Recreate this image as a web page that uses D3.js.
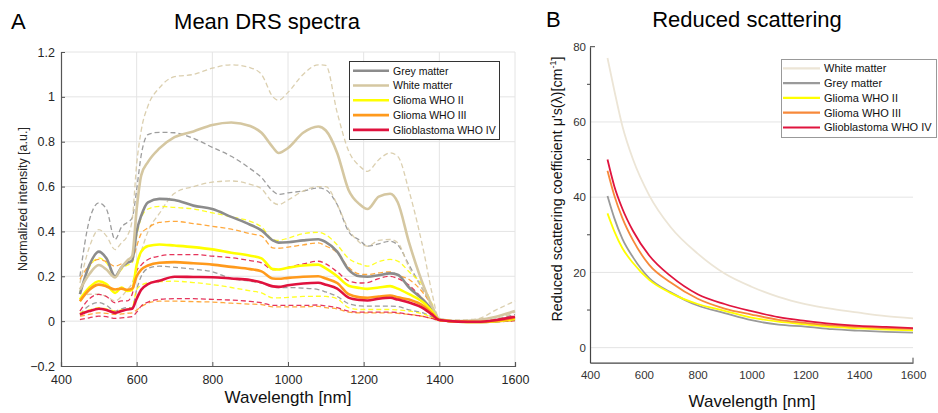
<!DOCTYPE html>
<html><head><meta charset="utf-8">
<script src="https://cdn.jsdelivr.net/npm/d3@7"></script>
<style>
body{margin:0;background:#fff;}
text{font-family:"Liberation Sans",Arial,Helvetica,sans-serif;}
</style></head>
<body><svg id="c" width="938" height="413"></svg>
<script>
// ---------- Panel A data ----------
const wavelengthsA = [450,475,500,520,543,560,575,588,600,612,630,660,700,750,800,850,900,930,960,975,1000,1040,1080,1100,1130,1160,1190,1210,1240,1270,1290,1320,1360,1380,1400,1450,1500,1550,1600];
const greyMean  = [0.12,0.25,0.31,0.28,0.20,0.24,0.26,0.27,0.40,0.47,0.53,0.545,0.54,0.515,0.50,0.465,0.43,0.405,0.36,0.35,0.352,0.36,0.365,0.352,0.31,0.23,0.20,0.198,0.205,0.213,0.207,0.15,0.09,0.05,0.005,-0.002,-0.004,0.0,0.01];
const greyUpper = [0.20,0.45,0.527,0.50,0.364,0.42,0.44,0.46,0.587,0.74,0.832,0.842,0.84,0.815,0.775,0.735,0.68,0.64,0.58,0.565,0.572,0.58,0.594,0.585,0.52,0.40,0.36,0.334,0.345,0.356,0.34,0.25,0.13,0.07,0.01,0.0,-0.002,0.01,0.03];
const greyLower = [0.03,0.07,0.083,0.07,0.045,0.055,0.06,0.06,0.141,0.20,0.235,0.245,0.24,0.232,0.22,0.19,0.178,0.17,0.152,0.15,0.15,0.147,0.141,0.13,0.11,0.078,0.068,0.067,0.067,0.067,0.065,0.05,0.035,0.02,0.004,-0.003,-0.005,-0.002,0.005];
const whiteMean  = [0.14,0.21,0.25,0.23,0.195,0.24,0.27,0.29,0.50,0.65,0.71,0.77,0.82,0.846,0.875,0.886,0.87,0.84,0.775,0.75,0.772,0.84,0.868,0.85,0.75,0.585,0.52,0.50,0.555,0.568,0.53,0.35,0.15,0.07,0.01,0.0,0.005,0.02,0.045];
const whiteUpper = [0.17,0.33,0.408,0.38,0.319,0.35,0.379,0.45,0.70,0.85,0.96,1.04,1.09,1.10,1.128,1.143,1.13,1.10,1.0,0.985,1.02,1.10,1.143,1.14,0.93,0.76,0.69,0.668,0.72,0.75,0.735,0.58,0.30,0.13,0.01,0.005,0.01,0.05,0.09];
const whiteLower = [0.10,0.12,0.12,0.11,0.09,0.11,0.14,0.17,0.24,0.31,0.40,0.48,0.57,0.60,0.62,0.625,0.61,0.59,0.53,0.52,0.54,0.58,0.60,0.60,0.52,0.41,0.35,0.334,0.36,0.364,0.35,0.24,0.13,0.06,0.005,0.0,0.0,0.01,0.04];
const g2Mean  = [0.097,0.15,0.178,0.165,0.126,0.15,0.135,0.14,0.25,0.31,0.335,0.342,0.337,0.33,0.32,0.305,0.292,0.28,0.232,0.23,0.238,0.248,0.252,0.235,0.20,0.158,0.148,0.144,0.15,0.156,0.145,0.12,0.08,0.045,0.005,-0.002,-0.004,0.0,0.01];
const g2Upper = [0.13,0.24,0.282,0.26,0.20,0.23,0.25,0.26,0.379,0.46,0.50,0.512,0.507,0.50,0.483,0.465,0.445,0.42,0.364,0.36,0.37,0.39,0.396,0.385,0.34,0.28,0.255,0.245,0.265,0.275,0.268,0.22,0.15,0.08,0.005,-0.002,-0.004,0.0,0.012];
const g2Lower = [0.037,0.05,0.06,0.055,0.045,0.05,0.055,0.06,0.141,0.16,0.171,0.176,0.178,0.172,0.163,0.15,0.135,0.126,0.104,0.104,0.106,0.11,0.111,0.11,0.10,0.06,0.052,0.052,0.052,0.052,0.05,0.045,0.03,0.018,0.003,-0.003,-0.005,-0.003,0.003];
const g3Mean  = [0.089,0.14,0.163,0.155,0.141,0.145,0.14,0.145,0.20,0.23,0.248,0.26,0.263,0.258,0.252,0.242,0.232,0.222,0.19,0.189,0.193,0.198,0.20,0.19,0.17,0.12,0.106,0.104,0.11,0.114,0.106,0.096,0.065,0.035,0.005,-0.002,-0.004,0.002,0.015];
const g3Upper = [0.186,0.25,0.275,0.265,0.245,0.255,0.26,0.27,0.334,0.39,0.416,0.44,0.445,0.435,0.423,0.41,0.39,0.379,0.327,0.325,0.33,0.34,0.349,0.335,0.305,0.24,0.21,0.208,0.215,0.22,0.205,0.186,0.12,0.07,0.005,-0.002,-0.004,0.0,0.01];
const g3Lower = [0.022,0.03,0.037,0.035,0.03,0.032,0.035,0.037,0.05,0.065,0.08,0.089,0.089,0.087,0.085,0.08,0.076,0.074,0.064,0.064,0.064,0.064,0.066,0.06,0.055,0.04,0.037,0.037,0.037,0.037,0.035,0.03,0.02,0.012,0.003,-0.003,-0.005,-0.003,0.002];
const g4Mean  = [0.03,0.045,0.055,0.05,0.037,0.045,0.052,0.055,0.10,0.14,0.165,0.18,0.198,0.197,0.196,0.19,0.183,0.172,0.155,0.153,0.16,0.168,0.171,0.162,0.145,0.105,0.094,0.092,0.10,0.104,0.096,0.083,0.055,0.03,0.005,-0.002,-0.003,0.005,0.02];
const g4Upper = [0.045,0.10,0.119,0.11,0.082,0.09,0.09,0.12,0.223,0.25,0.275,0.29,0.297,0.297,0.29,0.283,0.27,0.26,0.23,0.23,0.24,0.255,0.267,0.255,0.22,0.18,0.17,0.172,0.19,0.20,0.19,0.16,0.09,0.05,0.005,-0.002,-0.003,0.005,0.025];
const g4Lower = [0.007,0.015,0.022,0.02,0.012,0.015,0.017,0.02,0.04,0.067,0.085,0.097,0.10,0.10,0.097,0.094,0.088,0.082,0.07,0.07,0.07,0.07,0.072,0.068,0.06,0.045,0.04,0.04,0.04,0.04,0.038,0.03,0.02,0.012,0.003,-0.003,-0.005,-0.003,0.002];
const xTicksA = [400,600,800,1000,1200,1400,1600];
const yTicksA = [-0.2,0,0.2,0.4,0.6,0.8,1,1.2];
const legendA = ["Grey matter","White matter","Glioma WHO II","Glioma WHO III","Glioblastoma WHO IV"];

// ---------- Panel B data ----------
const wavelengthsB = [465,490,520,560,620,700,800,900,1000,1100,1200,1300,1400,1500,1600];
const scatWhite = [77,68.5,59,50,40.5,32,25,19.7,16.2,13.5,11.6,10.3,9.3,8.4,7.8];
const scatGrey  = [40.3,34.5,29,24,18.5,14.7,11.2,9.2,7.3,6.1,5.6,4.9,4.5,4.2,4.0];
const scatG2    = [35.7,31,26.5,22.5,18,14.5,11.6,9.8,8.0,6.9,6.2,5.5,5.1,4.8,4.6];
const scatG3    = [47,40.5,34.5,28.5,22,17.3,13.0,10.4,8.8,7.4,6.6,5.9,5.5,5.2,5.0];
const scatG4    = [50,43,37,31,24.5,19,14.2,11.6,9.7,8.1,7.1,6.3,5.8,5.5,5.2];
const xTicksB = [400,600,800,1000,1200,1400,1600];
const yTicksB = [0,20,40,60,80];
const legendB = ["White matter","Grey matter","Glioma WHO II","Glioma WHO III","Glioblastoma WHO IV"];

const svg = d3.select("#c");
svg.append("rect").attr("width",938).attr("height",413).attr("fill","#fff");

const cA = {grey:"#8c8c8c", white:"#d5c7a1", g2:"#ffff00", g3:"#ff9a1c", g4:"#e0123e"};
const cB = {grey:"#9a9a9a", white:"#ece5d6", g2:"#ffff00", g3:"#f7893a", g4:"#e0143e"};

// ================= Panel A =================
const xA = d3.scaleLinear().domain([400,1600]).range([61,515]);
const yA = d3.scaleLinear().domain([-0.2,1.2]).range([366,52]);
const gA = svg.append("g");
gA.selectAll(".gx").data(xTicksA.slice(1)).join("line")
  .attr("x1",d=>xA(d)).attr("x2",d=>xA(d)).attr("y1",yA(-0.2)).attr("y2",yA(1.2))
  .attr("stroke","#e4e4e4").attr("stroke-width",1);
gA.selectAll(".gy").data(yTicksA.slice(1)).join("line")
  .attr("x1",xA(400)).attr("x2",xA(1600)).attr("y1",d=>yA(d)).attr("y2",d=>yA(d))
  .attr("stroke","#e4e4e4").attr("stroke-width",1);

const lineA = d3.line().x(d=>xA(d[0])).y(d=>yA(d[1])).curve(d3.curveMonotoneX);
const zipA = arr => wavelengthsA.map((w,i)=>[w,arr[i]]);
const dashedA = [
  [greyUpper,cA.grey],[greyLower,cA.grey],
  [whiteUpper,cA.white],[whiteLower,cA.white],
  [g2Upper,cA.g2],[g2Lower,cA.g2],
  [g3Upper,cA.g3],[g3Lower,cA.g3],
  [g4Upper,cA.g4],[g4Lower,cA.g4]];
dashedA.forEach(([arr,col])=>{
  gA.append("path").attr("d",lineA(zipA(arr))).attr("fill","none")
    .attr("stroke",col).attr("stroke-width",1.3).attr("stroke-dasharray","5,3").attr("opacity",0.85);
});
const solidA = [[greyMean,cA.grey],[whiteMean,cA.white],[g2Mean,cA.g2],[g3Mean,cA.g3],[g4Mean,cA.g4]];
solidA.forEach(([arr,col])=>{
  gA.append("path").attr("d",lineA(zipA(arr))).attr("fill","none")
    .attr("stroke",col).attr("stroke-width",2.6).attr("stroke-linejoin","round");
});
const axAx = gA.append("g").attr("transform",`translate(0,${yA(-0.2)})`)
  .call(d3.axisBottom(xA).tickValues(xTicksA).tickSize(-4).tickPadding(9).tickFormat(d3.format("d")));
const axAy = gA.append("g").attr("transform",`translate(${xA(400)},0)`)
  .call(d3.axisLeft(yA).tickValues(yTicksA).tickSize(-4).tickPadding(6).tickFormat(d=>d===0?"0":(d===1?"1":d3.format(".1f")(d))));
[axAx,axAy].forEach(a=>{
  a.select(".domain").attr("stroke","#555").attr("stroke-width",1.2);
  a.selectAll(".tick line").attr("stroke","#555");
  a.selectAll("text").attr("font-size",12.5).attr("fill","#262626").attr("font-family","Liberation Sans, Arial, sans-serif");
});
gA.append("text").attr("x",288).attr("y",403).attr("text-anchor","middle").attr("font-size",17).attr("fill","#111").text("Wavelength [nm]");
gA.append("text").attr("transform","translate(27,199) rotate(-90)").attr("text-anchor","middle").attr("font-size",12.5).attr("fill","#262626").text("Normalized intensity [a.u.]");
gA.append("text").attr("x",267).attr("y",29).attr("text-anchor","middle").attr("font-size",22).attr("fill","#000").text("Mean DRS spectra");
svg.append("text").attr("x",11).attr("y",29).attr("font-size",22).attr("fill","#000").text("A");

const legA = gA.append("g");
legA.append("rect").attr("x",349.5).attr("y",61.5).attr("width",150).attr("height",78).attr("fill","#fff").attr("stroke","#333").attr("stroke-width",1);
const colsA = [cA.grey,cA.white,cA.g2,cA.g3,cA.g4];
legendA.forEach((t,i)=>{
  const y = 70.7 + i*14.8;
  legA.append("line").attr("x1",353).attr("x2",389).attr("y1",y).attr("y2",y).attr("stroke",colsA[i]).attr("stroke-width",2.6);
  legA.append("text").attr("x",393).attr("y",y+3.8).attr("font-size",10.5).attr("fill","#111").text(t);
});

// ================= Panel B =================
const xB = d3.scaleLinear().domain([400,1600]).range([590,913]);
const yB = d3.scaleLinear().domain([-4,80]).range([362.7,46.7]);
const gB = svg.append("g");
gB.selectAll(".gy").data([0,20,40,60]).join("line")
  .attr("x1",xB(400)).attr("x2",xB(1600)).attr("y1",d=>yB(d)).attr("y2",d=>yB(d))
  .attr("stroke","#e4e4e4").attr("stroke-width",1);
const lineB = d3.line().x(d=>xB(d[0])).y(d=>yB(d[1])).curve(d3.curveMonotoneX);
const zipB = arr => wavelengthsB.map((w,i)=>[w,arr[i]]);
[[scatWhite,cB.white],[scatGrey,cB.grey],[scatG2,cB.g2],[scatG3,cB.g3],[scatG4,cB.g4]].forEach(([arr,col])=>{
  gB.append("path").attr("d",lineB(zipB(arr))).attr("fill","none").attr("stroke",col).attr("stroke-width",1.8);
});
const axBx = gB.append("g").attr("transform",`translate(0,${yB(-4)})`)
  .call(d3.axisBottom(xB).tickValues(xTicksB).tickSize(0).tickPadding(8).tickFormat(d3.format("d")));
const axBy = gB.append("g").attr("transform",`translate(${xB(400)},0)`)
  .call(d3.axisLeft(yB).tickValues(yTicksB).tickSize(0).tickPadding(4).tickFormat(d3.format("d")));
[axBx,axBy].forEach(a=>{
  a.select(".domain").attr("stroke","#444").attr("stroke-width",1.2);
  a.selectAll("text").attr("font-size",11.5).attr("fill","#333").attr("font-family","Liberation Sans, Arial, sans-serif");
});
gB.selectAll(".mt").data([10,30,50,70,80]).join("line")
  .attr("x1",xB(400)).attr("x2",d=>xB(400)+(d===80?5:-3)).attr("y1",d=>yB(d)).attr("y2",d=>yB(d))
  .attr("stroke","#444");
gB.append("line").attr("x1",xB(1600)).attr("x2",xB(1600)).attr("y1",yB(-4)).attr("y2",yB(-4)-5).attr("stroke","#444");
gB.append("text").attr("x",752).attr("y",407).attr("text-anchor","middle").attr("font-size",17).attr("fill","#111").text("Wavelength [nm]");
const yl = gB.append("text").attr("transform","translate(562,189) rotate(-90)").attr("text-anchor","middle")
  .attr("font-size",14.3).attr("fill","#111").attr("font-family","DejaVu Sans, Verdana, sans-serif");
yl.append("tspan").text("Reduced scattering coefficient μ's(λ)[cm");
yl.append("tspan").attr("font-size",9).attr("dy",-6).text("-1");
yl.append("tspan").attr("dy",6).text("]");
gB.append("text").attr("x",747).attr("y",27).attr("text-anchor","middle").attr("font-size",22).attr("fill","#000").text("Reduced scattering");
svg.append("text").attr("x",546).attr("y",27).attr("font-size",22).attr("fill","#000").text("B");

const legB = gB.append("g");
legB.append("rect").attr("x",781.5).attr("y",59.5).attr("width",155).attr("height",78).attr("fill","#fff").attr("stroke","#999").attr("stroke-width",1);
const colsB = [cB.white,cB.grey,cB.g2,cB.g3,cB.g4];
legendB.forEach((t,i)=>{
  const y = 68.3 + i*14.8;
  legB.append("line").attr("x1",783).attr("x2",820).attr("y1",y).attr("y2",y).attr("stroke",colsB[i]).attr("stroke-width",2.2);
  legB.append("text").attr("x",824).attr("y",y+3.8).attr("font-size",11).attr("fill","#111").text(t);
});
</script></body></html>
